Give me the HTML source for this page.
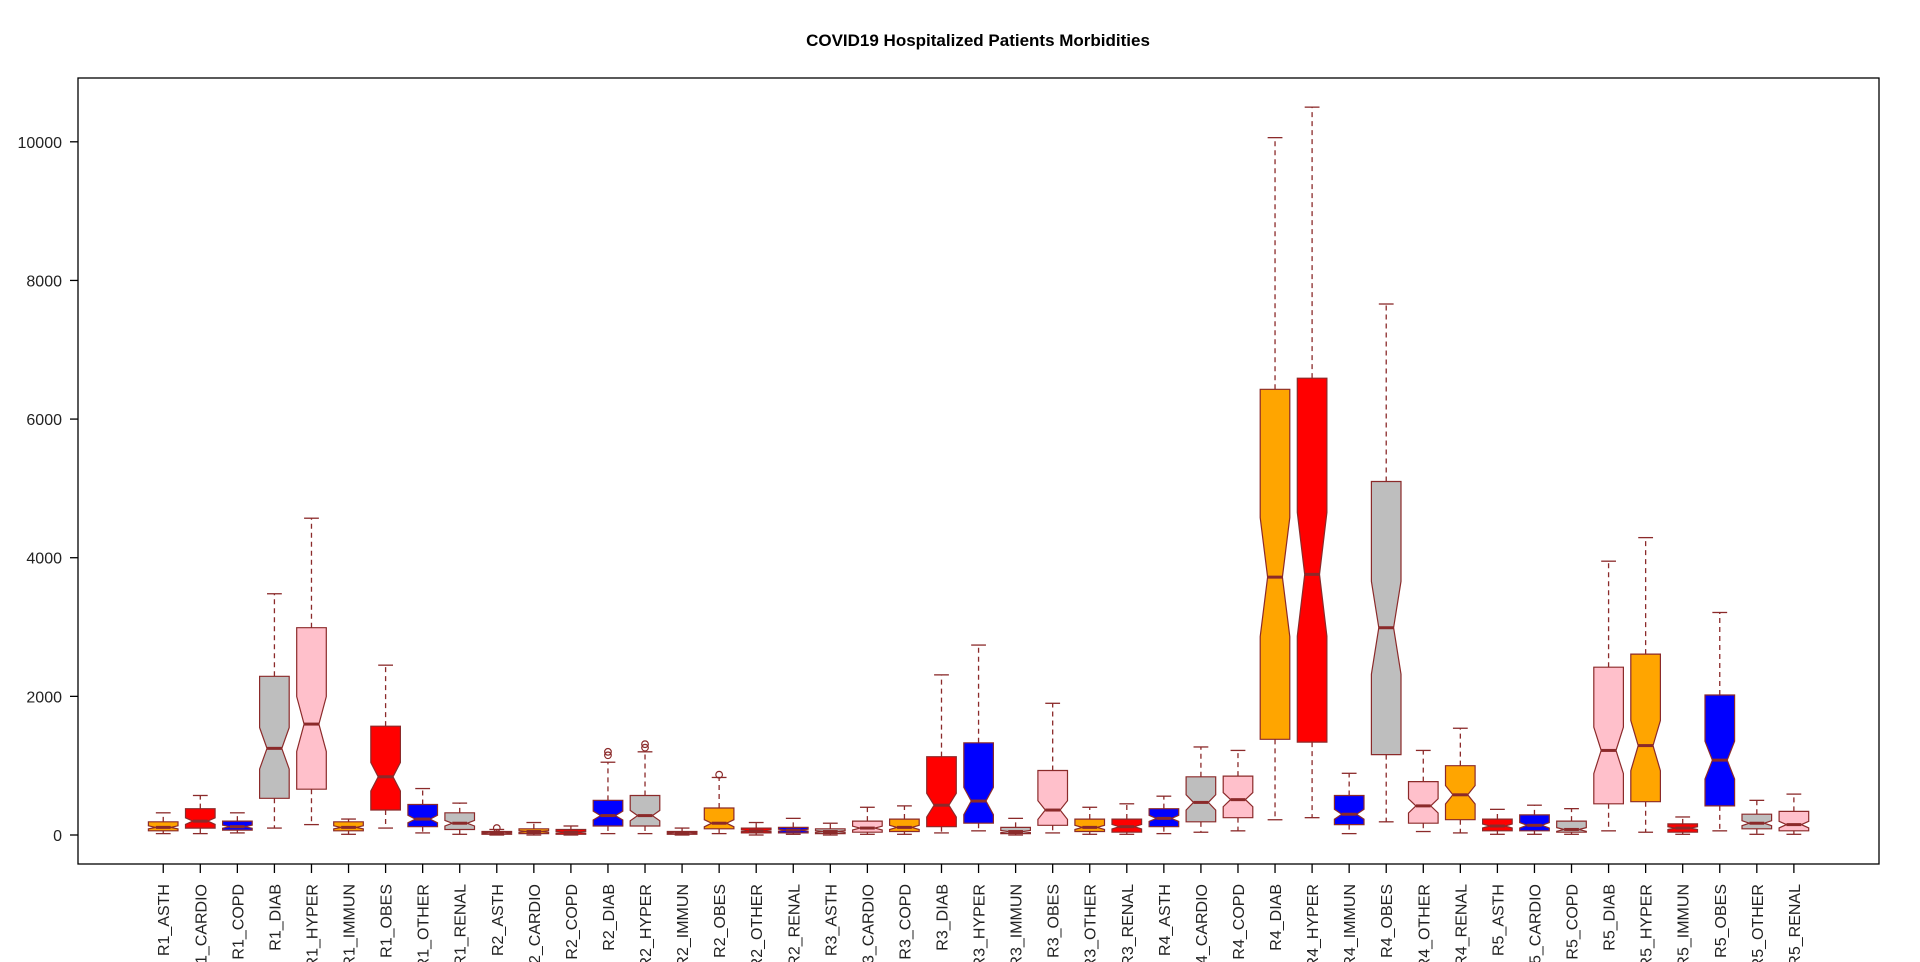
<!DOCTYPE html>
<html><head><meta charset="utf-8"><style>
html,body{margin:0;padding:0;background:#fff;}
svg{display:block;font-family:"Liberation Sans",sans-serif;}
</style></head><body>
<svg id="chart" width="1920" height="962" xmlns="http://www.w3.org/2000/svg">
<text x="978" y="46" text-anchor="middle" font-weight="bold" font-size="17">COVID19 Hospitalized Patients Morbidities</text>
<rect x="78" y="78" width="1801" height="786" fill="none" stroke="#000" stroke-width="1.3"/>
<g id="yaxis"></g>
<g id="xaxis"></g>
<g id="boxes"></g>
</svg>
<script>
const categories = ["R1_ASTH","R1_CARDIO","R1_COPD","R1_DIAB","R1_HYPER","R1_IMMUN","R1_OBES","R1_OTHER","R1_RENAL",
"R2_ASTH","R2_CARDIO","R2_COPD","R2_DIAB","R2_HYPER","R2_IMMUN","R2_OBES","R2_OTHER","R2_RENAL",
"R3_ASTH","R3_CARDIO","R3_COPD","R3_DIAB","R3_HYPER","R3_IMMUN","R3_OBES","R3_OTHER","R3_RENAL",
"R4_ASTH","R4_CARDIO","R4_COPD","R4_DIAB","R4_HYPER","R4_IMMUN","R4_OBES","R4_OTHER","R4_RENAL",
"R5_ASTH","R5_CARDIO","R5_COPD","R5_DIAB","R5_HYPER","R5_IMMUN","R5_OBES","R5_OTHER","R5_RENAL"];
const lowWhisker = [20,20,30,100,150,10,100,30,10, 0,0,0,20,20,0,20,0,10, 0,10,10,30,60,0,30,10,10, 20,40,60,220,250,20,190,50,30, 10,10,10,60,40,10,60,10,10];
const q1Values = [60,100,70,530,660,60,360,120,80, 10,20,10,130,130,10,90,30,30, 20,40,50,120,170,20,140,50,40, 120,190,250,1380,1340,150,1160,170,220, 60,60,40,450,480,40,420,90,60];
const medians = [110,200,120,1250,1600,110,840,230,170, 30,50,40,280,280,30,170,60,70, 50,100,110,430,490,50,360,110,120, 240,470,510,3720,3760,300,2990,420,580, 130,140,80,1220,1290,100,1080,170,150];
const q3Values = [190,380,200,2290,2990,190,1570,440,320, 50,90,80,500,570,50,390,100,110, 90,200,230,1130,1330,110,930,230,230, 380,840,850,6430,6590,570,5100,770,1000, 230,290,200,2420,2610,160,2020,300,340];
const highWhisker = [320,570,320,3480,4570,230,2450,670,460, 80,180,130,1050,1200,100,830,180,240, 170,400,420,2310,2740,240,1900,400,450, 560,1270,1220,10060,10500,890,7660,1220,1540, 370,430,380,3950,4290,260,3210,500,590];
const outlierGroups = [9,12,12,13,13,15];
const outlierValues = [100,1150,1200,1260,1310,870];
const yTicks = [0,2000,4000,6000,8000,10000];
const fills = ["orange","red","blue","#bebebe","pink"];

const NS="http://www.w3.org/2000/svg";
function el(tag, attrs, parent){const e=document.createElementNS(NS,tag);for(const k in attrs)e.setAttribute(k,attrs[k]);parent.appendChild(e);return e;}
const y = v => 835 - v*0.06932;
const x = i => 78 + (i+1+1.3)*37.06;
const B="#8b2a2a";

const ya=document.getElementById('yaxis');
yTicks.forEach(t=>{
  const ln=el('line',{x1:70,x2:78,y1:y(t),y2:y(t),stroke:'#000','stroke-width':1.3},ya);
  
  
  const tx=el('text',{x:62,y:y(t)+6,'text-anchor':'end','font-size':16,fill:'#222'},ya);
  tx.textContent=t;
  
  
});

const xa=document.getElementById('xaxis');
const bx=document.getElementById('boxes');
categories.forEach((c,i)=>{
  const cx=x(i);
  const tk=el('line',{x1:cx,x2:cx,y1:864,y2:873,stroke:'#000','stroke-width':1.3},xa);
  
  
  const tx=el('text',{x:0,y:0,'text-anchor':'end','font-size':16,fill:'#222',transform:`translate(${cx+6},884) rotate(-90)`},xa);
  tx.textContent=c;
  
  

  const g=el('g',{},bx);
  
  
  const w=14.8, lw=lowWhisker[i], q1=q1Values[i], md=medians[i], q3=q3Values[i], hw=highWhisker[i];
  const notch=0.17*(q3-q1);
  el('line',{x1:cx,x2:cx,y1:y(q3),y2:y(hw),stroke:B,'stroke-width':1.3,'stroke-dasharray':'5,4'},g);
  el('line',{x1:cx,x2:cx,y1:y(q1),y2:y(lw),stroke:B,'stroke-width':1.3,'stroke-dasharray':'5,4'},g);
  el('line',{x1:cx-7.4,x2:cx+7.4,y1:y(hw),y2:y(hw),stroke:B,'stroke-width':1.3},g);
  el('line',{x1:cx-7.4,x2:cx+7.4,y1:y(lw),y2:y(lw),stroke:B,'stroke-width':1.3},g);
  const pts=[[cx-w,q1],[cx-w,md-notch],[cx-w/2,md],[cx-w,md+notch],[cx-w,q3],[cx+w,q3],[cx+w,md+notch],[cx+w/2,md],[cx+w,md-notch],[cx+w,q1]]
    .map(p=>p[0].toFixed(1)+','+y(p[1]).toFixed(1)).join(' ');
  el('polygon',{points:pts,fill:fills[i%5],stroke:B,'stroke-width':1.2},g);
  el('line',{x1:cx-w/2,x2:cx+w/2,y1:y(md),y2:y(md),stroke:B,'stroke-width':3},g);
});
outlierGroups.forEach((gi,k)=>{
  const c=el('circle',{cx:x(gi),cy:y(outlierValues[k]),r:3.3,fill:'none',stroke:B,'stroke-width':1.2},bx);
  
  
});
</script>
</body></html>
